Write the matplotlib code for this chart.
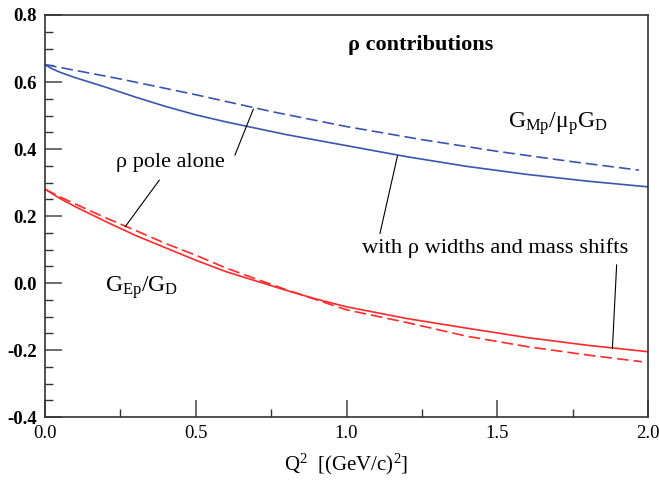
import matplotlib
matplotlib.use("Agg")
import matplotlib.pyplot as plt

plt.rcParams['font.family'] = ['Liberation Serif', 'DejaVu Serif']
plt.rcParams['mathtext.fontset'] = 'custom'
plt.rcParams['mathtext.rm'] = 'Liberation Serif'
plt.rcParams['mathtext.it'] = 'Liberation Serif:italic'

# G_Mp / mu_p G_D
q2_mag = [0.0, 0.02, 0.05, 0.1, 0.15, 0.2, 0.3, 0.4, 0.5, 0.6, 0.8, 1.0, 1.2, 1.4, 1.6, 1.8, 2.0]
mag_width = [0.652, 0.641, 0.629, 0.613, 0.599, 0.585, 0.555, 0.527, 0.502, 0.481, 0.443,
             0.410, 0.377, 0.348, 0.324, 0.304, 0.287]
q2_mag_pole = [0.0, 0.25, 0.5, 0.75, 1.0, 1.25, 1.5, 1.75, 1.97]
mag_pole = [0.652, 0.609, 0.562, 0.512, 0.467, 0.428, 0.393, 0.362, 0.337]

# G_Ep / G_D
q2_el = [0.0, 0.05, 0.1, 0.2, 0.3, 0.4, 0.5, 0.6, 0.7, 0.8, 0.9, 1.0, 1.2, 1.4, 1.6, 1.8, 2.0]
el_width = [0.280, 0.252, 0.228, 0.184, 0.142, 0.105, 0.068, 0.034, 0.006, -0.022, -0.048,
            -0.071, -0.106, -0.135, -0.163, -0.186, -0.205]
q2_el_pole = [0.0, 0.05, 0.1, 0.2, 0.3, 0.4, 0.5, 0.6, 0.7, 0.8, 0.9, 1.0, 1.2, 1.4, 1.6, 1.8, 1.98]
el_pole = [0.280, 0.257, 0.236, 0.195, 0.157, 0.118, 0.083, 0.045, 0.012, -0.020, -0.050,
           -0.080, -0.118, -0.159, -0.190, -0.215, -0.235]

blue = '#3a55b0'
red = '#ff2a2a'

fig = plt.figure(figsize=(6.59, 4.87), dpi=100)
ax = fig.add_axes([0.0683, 0.1437, 0.915, 0.8255])

ax.plot(q2_mag, mag_width, color=blue, lw=1.2)
ax.plot(q2_mag_pole, mag_pole, color=blue, lw=1.2, ls=(0, (7, 3)))
ax.plot(q2_el, el_width, color=red, lw=1.2)
ax.plot(q2_el_pole, el_pole, color=red, lw=1.2, ls=(0, (7, 3)))

ax.set_xlim(0, 2.0)
ax.set_ylim(-0.4, 0.8)
ax.set_xticks([0.0, 0.5, 1.0, 1.5, 2.0])
ax.set_xticks([0.25, 0.75, 1.25, 1.75], minor=True)
ax.set_yticks([-0.4, -0.2, 0.0, 0.2, 0.4, 0.6, 0.8])
ax.set_yticks([-0.35, -0.3, -0.25, -0.15, -0.1, -0.05, 0.05, 0.1, 0.15,
               0.25, 0.3, 0.35, 0.45, 0.5, 0.55, 0.65, 0.7, 0.75], minor=True)
ax.set_xticklabels(['0.0', '0.5', '1.0', '1.5', '2.0'], fontsize=13.5)
ax.set_yticklabels(['-0.4', '-0.2', '0.0', '0.2', '0.4', '0.6', '0.8'], fontsize=13.5, fontweight='bold')
ax.tick_params(which='major', direction='in', length=12, width=1.2, color='#555555', pad=6)
ax.tick_params(which='minor', direction='in', length=6, width=1.0, color='#333333')
for s in ax.spines.values():
    s.set_linewidth(1.2)
    s.set_color('#333333')

ax.set_xlabel(r'Q$^2$  [(GeV/c)$^2$]', fontsize=15, labelpad=7)

ax.text(1.247, 0.71, 'ρ contributions', fontsize=16, fontweight='bold', ha='center', va='center')
ax.text(1.70, 0.475, r'$\mathrm{G_{Mp}/μ_{p}G_{D}}$', fontsize=17, ha='center', va='center')
ax.text(0.322, -0.015, r'$\mathrm{G_{Ep}/G_{D}}$', fontsize=17, ha='center', va='center')

ax.text(0.416, 0.36, 'ρ pole alone', fontsize=16, ha='center', va='center')
ax.plot([0.379, 0.266], [0.307, 0.168], color='black', lw=0.8)
ax.plot([0.630, 0.691], [0.382, 0.519], color='black', lw=0.8)

ax.text(1.493, 0.105, 'with ρ widths and mass shifts', fontsize=16.2, ha='center', va='center')
ax.plot([1.169, 1.111], [0.379, 0.148], color='black', lw=0.8)
ax.plot([1.896, 1.882], [0.054, -0.195], color='black', lw=0.8)

fig.savefig('out.png', dpi=100)
